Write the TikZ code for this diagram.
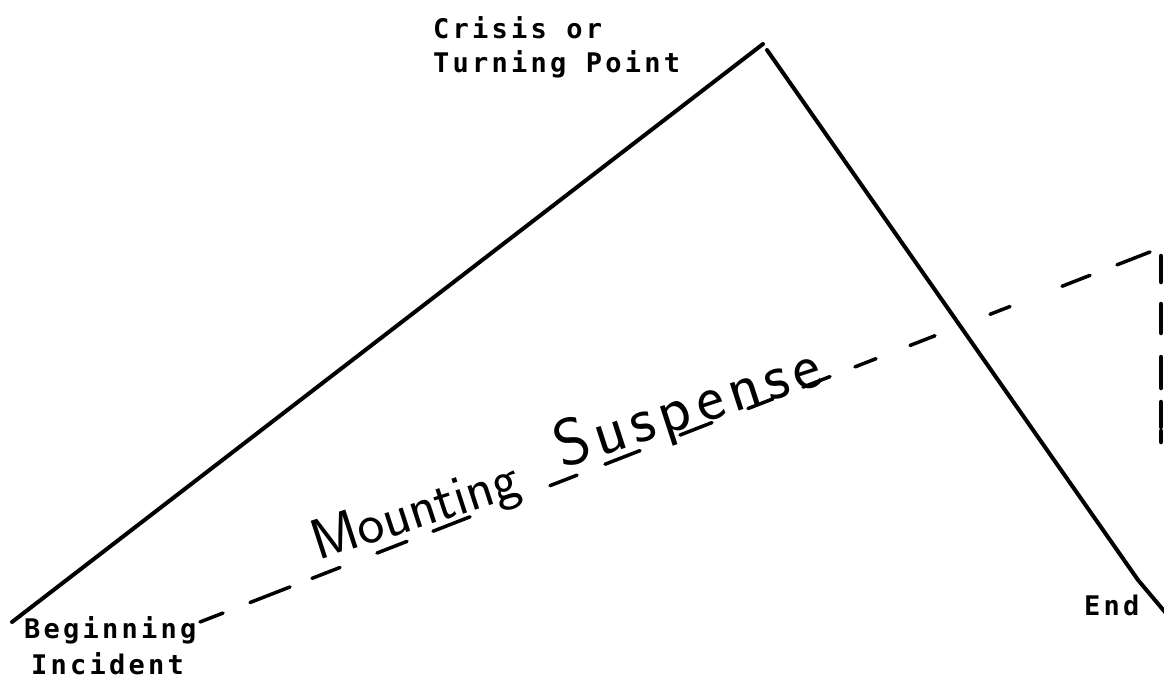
\documentclass[tikz,border=0pt]{standalone}
\usepackage{fontspec}
\newfontfamily\labelfont{DejaVu Sans Mono}[LetterSpace=12]
\newfontfamily\handfont{Latin Modern Sans}
\begin{document}
\begin{tikzpicture}[x=1pt,y=-1pt,
  lbl/.style={inner sep=0pt, anchor=base west, font=\labelfont\bfseries\fontsize{27}{32}\selectfont},
  hand/.style={inner sep=0pt, anchor=base west, rotate=18, font=\handfont\fontsize{57}{60}\selectfont},
  plotline/.style={line width=4pt, line cap=round, line join=round},
  dashseg/.style={line width=3.5pt, line cap=round},
  edgemark/.style={line width=4.5pt, line cap=round}]
\useasboundingbox (0,0) rectangle (1164,685);
\fill[white] (0,0) rectangle (1164,685);
\clip (0,0) rectangle (1164,685);
% plot line
\coordinate (begin) at (12,622);
\coordinate (apexL) at (763,44);
\coordinate (apexR) at (767,50);
\coordinate (kink) at (1138,580);
\coordinate (endpt) at (1170,618);
\draw[plotline] (begin) -- (apexL);
\draw[plotline] (apexR) -- (kink) -- (endpt);
% labels
\node[lbl] (crisis1) at (433,39) {Crisis or};
\node[lbl] (crisis2) at (433,73) {Turning Point};
\node[lbl] (begin1) at (24,638) {Beginning};
\node[lbl] (begin2) at (31,674) {Incident};
\node[lbl] (endlbl) at (1084,615) {End};
% handwritten text
\node[hand] (mount) at (318,561) {Mounting};
\node[hand, font=\handfont\addfontfeature{LetterSpace=9}\fontsize{66}{70}\selectfont] (susp) at (562,469) {Suspense};
% dashed line of mounting suspense
\foreach \a/\b in {200/223,250/290,312/340,377/407,433/470,550/577,605/640,680/712,748/773,803/830,855/876,910/935,990/1010,1062/1090,1117/1150}
  \draw[dashseg] (\a,{622-0.3895*(\a-200)}) -- (\b,{622-0.3895*(\b-200)});
% clipped marks at the right edge
\foreach \ya/\yb in {256/282,304/333,357/388,402/427,431/442}
  \draw[edgemark] (1161,\ya) -- (1161,\yb);
\end{tikzpicture}
\end{document}
